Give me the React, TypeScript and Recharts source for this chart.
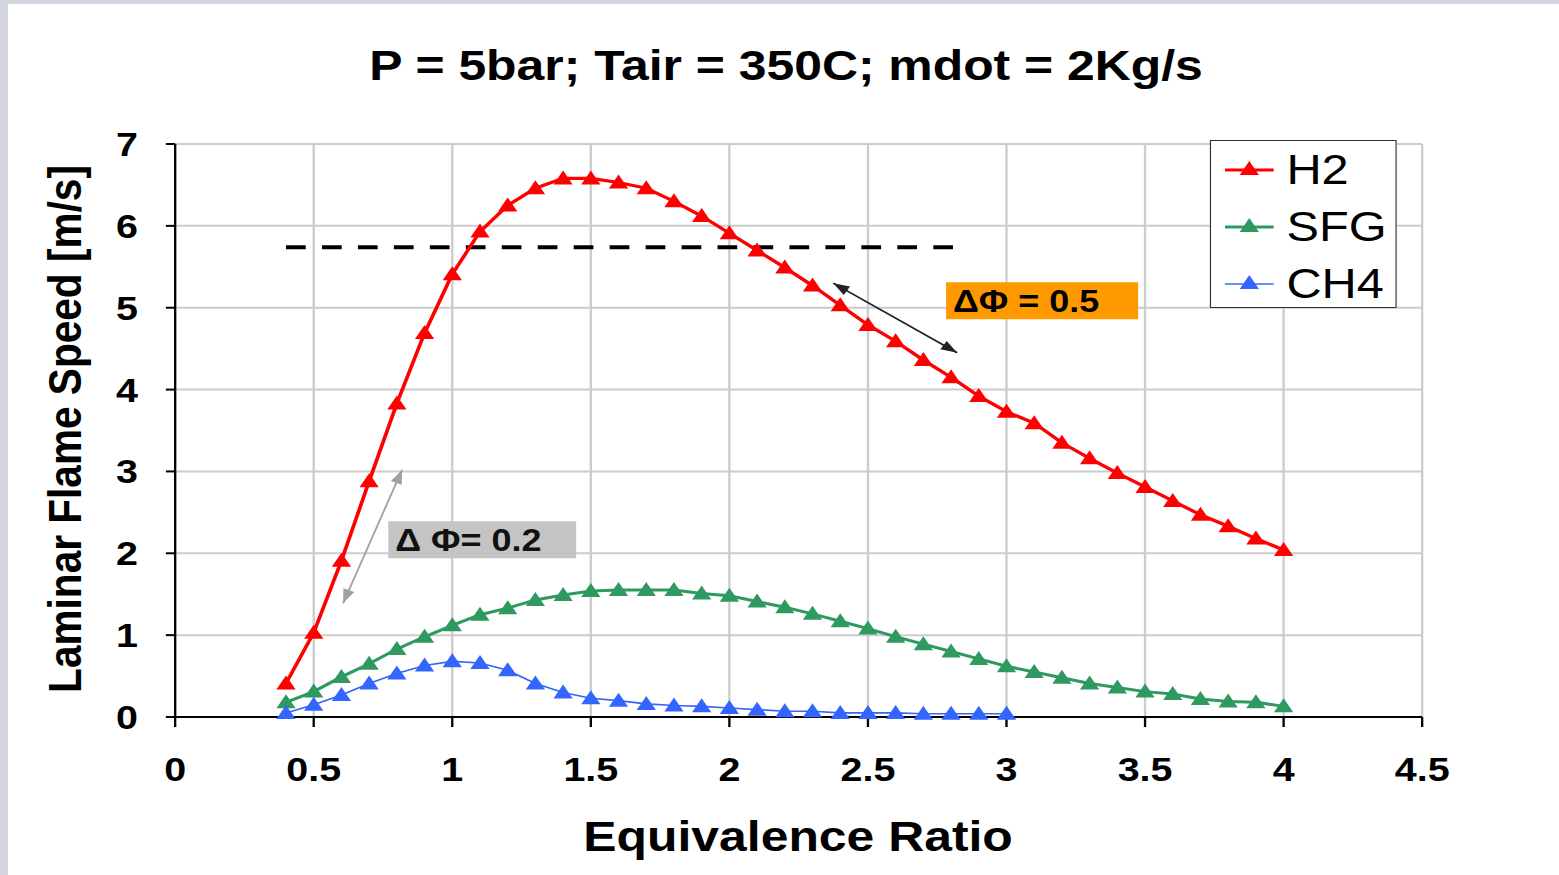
import {
  LineChart,
  Line,
  XAxis,
  YAxis,
  CartesianGrid,
  ReferenceLine,
  ReferenceArea,
  Legend,
} from "recharts";

// equivalence ratio values (x)
const PHI = [
  0.4, 0.5, 0.6, 0.7, 0.8, 0.9, 1.0, 1.1, 1.2, 1.3, 1.4, 1.5, 1.6, 1.7, 1.8,
  1.9, 2.0, 2.1, 2.2, 2.3, 2.4, 2.5, 2.6, 2.7, 2.8, 2.9, 3.0, 3.1, 3.2, 3.3,
  3.4, 3.5, 3.6, 3.7, 3.8, 3.9, 4.0,
];

const H2 = [
  0.41, 1.03, 1.91, 2.88, 3.83, 4.69, 5.41, 5.93, 6.25, 6.46, 6.58, 6.58, 6.53,
  6.46, 6.3, 6.12, 5.91, 5.7, 5.49, 5.27, 5.03, 4.79, 4.59, 4.36, 4.15, 3.92,
  3.73, 3.59, 3.35, 3.16, 2.98, 2.81, 2.64, 2.47, 2.33, 2.18, 2.04,
];

const SFG = [
  0.18, 0.31, 0.49, 0.65, 0.83, 0.98, 1.12, 1.25, 1.33, 1.43, 1.49, 1.54, 1.55,
  1.55, 1.55, 1.51, 1.48, 1.41, 1.34, 1.26, 1.17, 1.08, 0.98, 0.89, 0.8, 0.71,
  0.62, 0.55, 0.48, 0.41, 0.36, 0.31, 0.28, 0.22, 0.19, 0.18, 0.13,
];

// CH4 stops at phi = 3.0
const CH4 = [
  0.05, 0.15, 0.27, 0.41, 0.53, 0.63, 0.68, 0.66, 0.57, 0.41, 0.3, 0.23, 0.2,
  0.16, 0.14, 0.13, 0.11, 0.09, 0.07, 0.07, 0.05, 0.05, 0.05, 0.04, 0.04, 0.04,
  0.04,
];

const X_TICKS = [0, 0.5, 1, 1.5, 2, 2.5, 3, 3.5, 4, 4.5];
const Y_TICKS = [0, 1, 2, 3, 4, 5, 6, 7];

const TITLE = "P = 5bar; Tair = 350C; mdot = 2Kg/s";
const X_LABEL = "Equivalence Ratio";
const Y_LABEL = "Laminar Flame Speed [m/s]";

// annotations, in data units
const DASH_LEVEL = 5.74;
const DASH_FROM = 0.4;
const DASH_TO = 2.815;
const NOTE_RICH = { text: "ΔΦ = 0.5", x1: 2.782, x2: 3.475, y1: 4.86, y2: 5.31 };
const NOTE_LEAN = { text: "Δ Φ= 0.2", x1: 0.769, x2: 1.447, y1: 1.94, y2: 2.39 };
const ARROW_RICH = [
  { x: 2.375, y: 5.3 },
  { x: 2.822, y: 4.45 },
];
const ARROW_LEAN = [
  { x: 0.819, y: 3.02 },
  { x: 0.606, y: 1.39 },
];

const SERIES = [
  { key: "H2", color: "#ff0000", width: 3.2 },
  { key: "SFG", color: "#2f9a60", width: 3 },
  { key: "CH4", color: "#3366ff", width: 1.6 },
];

const rows = PHI.map((phi, i) => ({
  phi,
  H2: H2[i],
  SFG: SFG[i],
  CH4: i < CH4.length ? CH4[i] : null,
}));

const FONT = '"Liberation Sans", Arial, sans-serif';
const S = 1.16; // the source picture is stretched horizontally
const W = 1344;
const H = 875;

function triPath(cx: number, cy: number) {
  return `M${cx},${cy - 8} L${cx + 8.3},${cy + 6} L${cx - 8.3},${cy + 6} Z`;
}

const makeDot = (color: string) => (p: any) => {
  if (p.cy == null || p.value == null || Number.isNaN(p.cy)) {
    return <g key={`d-${p.index}`} />;
  }
  return <path key={`d-${p.index}`} d={triPath(p.cx, p.cy)} fill={color} />;
};

const DoubleArrow = (props: any) => {
  const { x1, y1, x2, y2, stroke } = props;
  const a = Math.atan2(y2 - y1, x2 - x1);
  const head = (x: number, y: number, ang: number) => {
    const L = 14;
    const w = 5;
    const bx = x - L * Math.cos(ang);
    const by = y - L * Math.sin(ang);
    const px = -Math.sin(ang) * w;
    const py = Math.cos(ang) * w;
    return `${x},${y} ${bx + px},${by + py} ${bx - px},${by - py}`;
  };
  return (
    <g>
      <line x1={x1} y1={y1} x2={x2} y2={y2} stroke={stroke} strokeWidth={1.6} />
      <polygon points={head(x2, y2, a)} fill={stroke} />
      <polygon points={head(x1, y1, a + Math.PI)} fill={stroke} />
    </g>
  );
};

function LegendBox() {
  return (
    <div
      style={{
        boxSizing: "border-box",
        width: 161,
        height: 168,
        border: "1.5px solid #333",
        background: "#fff",
        fontFamily: FONT,
      }}
    >
      {SERIES.map((s) => (
        <div
          key={s.key}
          style={{ display: "flex", alignItems: "center", height: 56, marginTop: 1 }}
        >
          <svg width={65} height={56} style={{ flex: "none" }}>
            <line x1={12} y1={28} x2={54} y2={28} stroke={s.color} strokeWidth={s.width} />
            <path d={triPath(33, 27)} fill={s.color} />
          </svg>
          <span style={{ fontSize: 42, color: "#000", lineHeight: "56px" }}>{s.key}</span>
        </div>
      ))}
    </div>
  );
}

const tickStyle = { fill: "#000", fontSize: 34, fontWeight: 700, fontFamily: FONT };

export default function App() {
  return (
    <div
      style={{
        position: "absolute",
        left: 0,
        top: 0,
        width: 1559,
        height: 875,
        background: "#d2d5dd",
        overflow: "hidden",
      }}
    >
      <div
        style={{ position: "absolute", left: 8, top: 4, right: 0, bottom: 0, background: "#fff" }}
      />
      <div
        style={{
          position: "absolute",
          left: 0,
          top: 0,
          width: W,
          height: H,
          transform: `scaleX(${S})`,
          transformOrigin: "0 0",
        }}
      >
        <LineChart
          width={W}
          height={H}
          data={rows}
          margin={{ top: 144, right: 118, bottom: 98, left: 51 }}
        >
          <CartesianGrid stroke="#cccccc" strokeWidth={2} />
          <XAxis
            dataKey="phi"
            type="number"
            domain={[0, 4.5]}
            ticks={X_TICKS}
            height={60}
            tickSize={10}
            tickMargin={30}
            axisLine={{ stroke: "#000", strokeWidth: 2 }}
            tickLine={{ stroke: "#000", strokeWidth: 2 }}
            tick={tickStyle}
            interval={0}
          />
          <YAxis
            type="number"
            domain={[0, 7]}
            ticks={Y_TICKS}
            width={100}
            tickSize={8}
            tickMargin={24}
            axisLine={{ stroke: "#000", strokeWidth: 2 }}
            tickLine={{ stroke: "#000", strokeWidth: 2 }}
            tick={tickStyle}
            interval={0}
          />
          <ReferenceArea
            x1={NOTE_RICH.x1}
            x2={NOTE_RICH.x2}
            y1={NOTE_RICH.y1}
            y2={NOTE_RICH.y2}
            fill="#ff9900"
            fillOpacity={1}
            stroke="none"
            label={{
              value: NOTE_RICH.text,
              position: "insideLeft",
              offset: 6,
              fill: "#000",
              fontSize: 31,
              fontWeight: 700,
              fontFamily: FONT,
            }}
          />
          <ReferenceArea
            x1={NOTE_LEAN.x1}
            x2={NOTE_LEAN.x2}
            y1={NOTE_LEAN.y1}
            y2={NOTE_LEAN.y2}
            fill="#c4c4c4"
            fillOpacity={1}
            stroke="none"
            label={{
              value: NOTE_LEAN.text,
              position: "insideLeft",
              offset: 6,
              fill: "#111",
              fontSize: 31,
              fontWeight: 700,
              fontFamily: FONT,
            }}
          />
          <ReferenceLine
            segment={[
              { x: DASH_FROM, y: DASH_LEVEL },
              { x: DASH_TO, y: DASH_LEVEL },
            ]}
            stroke="#000"
            strokeWidth={4}
            strokeDasharray="17 14"
          />
          <ReferenceLine segment={ARROW_RICH} stroke="#222" shape={DoubleArrow} />
          <ReferenceLine segment={ARROW_LEAN} stroke="#a0a0a0" shape={DoubleArrow} />
          {SERIES.map((s) => (
            <Line
              key={s.key}
              dataKey={s.key}
              type="linear"
              stroke={s.color}
              strokeWidth={s.width}
              dot={makeDot(s.color)}
              activeDot={false}
              isAnimationActive={false}
            />
          ))}
          <Legend
            layout="vertical"
            align="center"
            verticalAlign="middle"
            wrapperStyle={{ left: 1043, top: 140, width: 161, height: 168 }}
            content={() => <LegendBox />}
          />
        </LineChart>
        <svg
          width={W}
          height={H}
          style={{ position: "absolute", left: 0, top: 0, pointerEvents: "none" }}
        >
          <text
            x={677.6}
            y={80}
            textAnchor="middle"
            fontFamily={FONT}
            fontWeight={700}
            fontSize={43}
            fill="#000"
          >
            {TITLE}
          </text>
          <text
            x={688}
            y={851}
            textAnchor="middle"
            fontFamily={FONT}
            fontWeight={700}
            fontSize={43}
            fill="#000"
          >
            {X_LABEL}
          </text>
          <text
            x={70}
            y={429}
            textAnchor="middle"
            transform="rotate(-90 70 429)"
            fontFamily={FONT}
            fontWeight={700}
            fontSize={40.6}
            fill="#000"
          >
            {Y_LABEL}
          </text>
        </svg>
      </div>
    </div>
  );
}
